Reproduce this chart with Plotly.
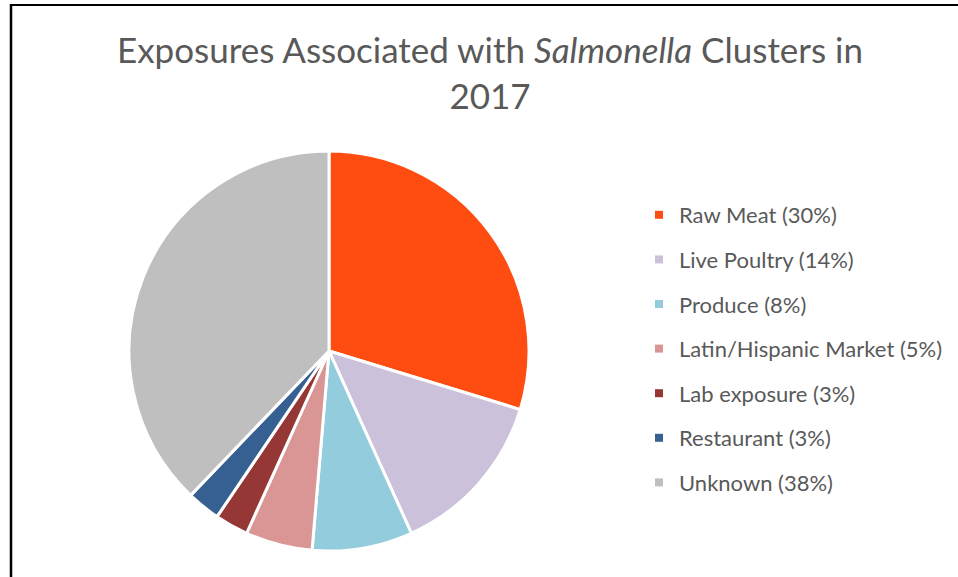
import plotly.graph_objects as go

categories = ["Raw Meat", "Live Poultry", "Produce", "Latin/Hispanic Market",
              "Lab exposure", "Restaurant", "Unknown"]
cluster_counts = [11, 5, 3, 2, 1, 1, 14]
percent_labels = ["30%", "14%", "8%", "5%", "3%", "3%", "38%"]
colors = ["#FF4D12", "#CCC1DA", "#93CDDD", "#D99694", "#953735", "#376092", "#BFBFBF"]

W, H = 958, 577
fig = go.Figure()

fig.add_trace(go.Pie(
    labels=categories, values=cluster_counts, sort=False, direction="clockwise",
    rotation=0, textinfo="none", showlegend=False,
    marker=dict(colors=colors, line=dict(color="white", width=3)),
    domain=dict(x=[129 / W, 529 / W], y=[26 / H, 426 / H]),
))

# legend entries (one per category, from the same lists)
for i, (cat, pct, col) in enumerate(zip(categories, percent_labels, colors)):
    fig.add_trace(go.Scatter(
        x=[None], y=[None], mode="markers", name=f"{cat} ({pct})",
        legendgroup=f"g{i}",
        marker=dict(symbol="square", size=8, color=col),
    ))

fig.update_layout(
    width=W, height=H,
    margin=dict(l=0, r=0, t=0, b=0),
    paper_bgcolor="white", plot_bgcolor="white",
    xaxis=dict(visible=False), yaxis=dict(visible=False),
    title=dict(
        text="Exposures Associated with <i>Salmonella</i> Clusters in<br>2017",
        x=490 / W, xanchor="center", xref="container",
        y=1 - 63 / H, yanchor="top", yref="container",
        font=dict(family="Lato, Calibri, sans-serif", size=35, color="#595959"),
    ),
    legend=dict(
        x=(679 - 40) / W, xanchor="left", y=1 - (214 - 20) / H, yanchor="top",
        font=dict(family="Lato, Calibri, sans-serif", size=22, color="#595959"),
        tracegroupgap=13, bgcolor="rgba(0,0,0,0)", itemsizing="trace",
    ),
    shapes=[
        dict(type="line", xref="paper", yref="paper", x0=10 / W, x1=1, y0=1 - 5 / H, y1=1 - 5 / H,
             line=dict(color="black", width=2)),
        dict(type="line", xref="paper", yref="paper", x0=11 / W, x1=11 / W, y0=0, y1=1 - 4 / H,
             line=dict(color="black", width=2.5)),
    ],
)

fig.write_html("out.html", config={"displayModeBar": False},
               post_script="document.body.style.margin='0';document.body.style.overflow='hidden';")
